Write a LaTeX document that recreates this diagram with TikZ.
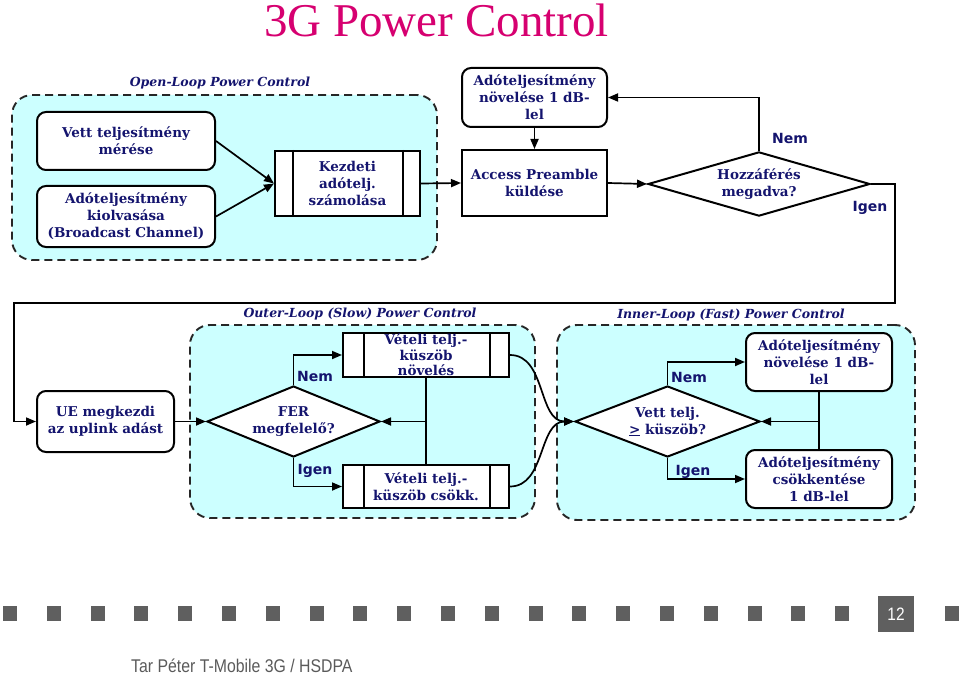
\documentclass[tikz,border=0pt]{standalone}
\usepackage{fontspec}
\usetikzlibrary{shapes.geometric,arrows.meta}
\newfontfamily\boxfont{DejaVu Serif}
\newfontfamily\lblfont{DejaVu Sans}
\newfontfamily\titlefont{Liberation Serif}
\newfontfamily\footfont[FakeStretch=0.86]{Liberation Sans}
\definecolor{navy}{RGB}{20,20,110}
\definecolor{regfill}{RGB}{204,255,255}
\definecolor{tmag}{RGB}{214,0,112}
\definecolor{sqcol}{RGB}{95,95,95}
\definecolor{footgray}{RGB}{90,90,90}
\tikzset{
  region/.style={draw=black!85, line width=1.9pt, dash pattern=on 8pt off 5pt, fill=regfill, rounded corners=20pt},
  reglabel/.style={font=\boxfont\bfseries\itshape\fontsize{12.5}{14}\selectfont, text=navy, inner sep=0pt},
  boxtxt/.style={font=\boxfont\bfseries\fontsize{13.5}{17}\selectfont, text=navy, align=center, inner sep=0pt},
  rbox/.style={boxtxt, draw=black, line width=2pt, fill=white, rounded corners=9pt},
  sbox/.style={boxtxt, draw=black, line width=2pt, fill=white},
  dia/.style={boxtxt, diamond, shape aspect=2.5, draw=black, line width=2pt, fill=white},
  yn/.style={font=\lblfont\bfseries\fontsize{14}{16}\selectfont, text=navy, inner sep=0pt},
  arr/.style={line width=1.7pt, -{Triangle[length=10pt,width=8pt]}},
  ln/.style={line width=1.7pt},
}
\begin{document}
\begin{tikzpicture}[x=1pt,y=-1pt]
\path[use as bounding box] (0,0) rectangle (960,676);
% title
\node[font=\titlefont\fontsize{47}{50}\selectfont, text=tmag, anchor=base] (title) at (436.5,37) {3G Power Control};
% regions
\node[region, minimum width=425pt, minimum height=165pt] (openreg) at (224.5,177.5) {};
\node[reglabel] (openlbl) at (220,83) {Open-Loop Power Control};
\node[region, minimum width=345pt, minimum height=193pt] (outreg) at (362.5,421.5) {};
\node[reglabel] (outlbl) at (360,314) {Outer-Loop (Slow) Power Control};
\node[region, minimum width=358pt, minimum height=195pt] (inreg) at (736,422.5) {};
\node[reglabel] (inlbl) at (731,315) {Inner-Loop (Fast) Power Control};
% open loop
\node[rbox, minimum width=178pt, minimum height=58pt] (b1) at (126,141) {Vett teljesítmény\\mérése};
\node[rbox, minimum width=178pt, minimum height=61pt] (b2) at (126,216.5) {Adóteljesítmény\\kiolvasása\\(Broadcast Channel)};
\node[sbox, minimum width=145pt, minimum height=65pt] (kez) at (347.5,183.5) {Kezdeti\\adótelj.\\számolása};
\draw[ln] ([xshift=19pt]kez.north west) -- ([xshift=19pt]kez.south west);
\draw[ln] ([xshift=-18pt]kez.north east) -- ([xshift=-18pt]kez.south east);
\node[rbox, minimum width=145pt, minimum height=59pt] (inc1) at (534.5,97.5) {Adóteljesítmény\\növelése 1 dB-\\lel};
\node[sbox, minimum width=145pt, minimum height=66pt] (ap) at (534.5,183) {Access Preamble\\küldése};
\node[dia, minimum width=222pt, minimum height=64pt] (d1) at (759,184) {Hozzáférés\\megadva?};
\node[yn] (nem1) at (790,138) {Nem};
\node[yn] (igen1) at (870,208) {Igen};
\draw[arr] (b1.east) -- (kez.west);
\draw[arr] (b2.east) -- (kez.west);
\draw[arr] (kez.east) -- (ap.west);
\draw[arr] (inc1.south) -- (ap.north);
\draw[arr] (ap.east) -- (d1.west);
\draw[arr] (d1.north) |- (inc1.east);
% outer loop
\node[rbox, minimum width=137pt, minimum height=61pt] (ue) at (105.5,421.5) {UE megkezdi\\az uplink adást};
\coordinate (c1) at (895,303);
\coordinate (c2) at (14,303);
\draw[arr] (d1.east) -| (c1) -- (c2) |- (ue.west);
\node[dia, minimum width=173pt, minimum height=71pt] (d2) at (293.5,421.5) {FER\\megfelelő?};
\node[sbox, minimum width=166pt, minimum height=44pt] (vinc) at (426,355) {\raisebox{2pt}{\parbox{3cm}{\centering Vételi telj.-\\[-1.5pt]küszöb\\[-1.5pt]növelés}}};
\draw[ln] ([xshift=22pt]vinc.north west) -- ([xshift=22pt]vinc.south west);
\draw[ln] ([xshift=-20pt]vinc.north east) -- ([xshift=-20pt]vinc.south east);
\node[sbox, minimum width=166pt, minimum height=43pt] (vdec) at (426,486.5) {Vételi telj.-\\küszöb csökk.};
\draw[ln] ([xshift=22pt]vdec.north west) -- ([xshift=22pt]vdec.south west);
\draw[ln] ([xshift=-20pt]vdec.north east) -- ([xshift=-20pt]vdec.south east);
\node[yn] (nem2) at (315,376) {Nem};
\node[yn] (igen2) at (315,471) {Igen};
\draw[arr] (ue.east) -- (d2.west);
\draw[arr] (d2.north) |- (vinc.west);
\draw[arr] (d2.south) |- (vdec.west);
\coordinate (j1) at (vinc.south |- d2.east);
\draw[ln] (vinc.south) -- (vdec.north);
\draw[arr] (j1) -- (d2.east);
% inner loop
\node[dia, minimum width=185pt, minimum height=71pt] (d3) at (667.5,421.5) {Vett telj.\\\underline{>} küszöb?};
\node[rbox, minimum width=146pt, minimum height=58pt] (inc2) at (819,362) {Adóteljesítmény\\növelése 1 dB-\\lel};
\node[rbox, minimum width=146pt, minimum height=58pt] (dec2) at (819,479) {Adóteljesítmény\\csökkentése\\1 dB-lel};
\node[yn] (nem3) at (689,377) {Nem};
\node[yn] (igen3) at (693,472) {Igen};
\draw[arr] (d3.north) |- (inc2.west);
\draw[arr] (d3.south) |- (dec2.west);
\coordinate (j2) at (inc2.south |- d3.east);
\draw[ln] (inc2.south) -- (dec2.north);
\draw[arr] (j2) -- (d3.east);
\draw[arr] (vinc.east) to[out=0,in=180] (d3.west);
\draw[arr] (vdec.east) to[out=0,in=180] (d3.west);
% footer
\foreach \i in {0,...,19} \fill[sqcol] ({10+43.8*\i-7},606) rectangle ++(14,15);
\fill[sqcol] (945,606) rectangle ++(14,15);
\node[fill=sqcol, minimum width=36pt, minimum height=36pt, inner sep=0pt, text=white, font=\footfont\fontsize{18}{19}\selectfont] (pg) at (896,614) {12};
\node[anchor=base west, inner sep=0pt, font=\footfont\fontsize{18.4}{20}\selectfont, text=footgray] (foot) at (131,672) {Tar Péter T-Mobile 3G / HSDPA};
\end{tikzpicture}
\end{document}
